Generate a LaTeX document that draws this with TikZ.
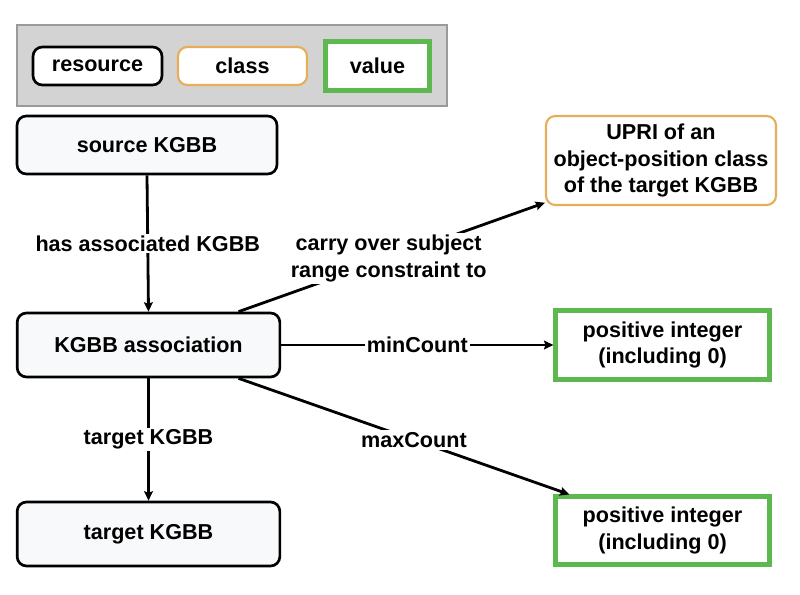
\documentclass[tikz,border=0pt]{standalone}
\usepackage{fontspec}
\setmainfont{Liberation Sans}
\usetikzlibrary{arrows.meta,calc}
\definecolor{orangeb}{HTML}{E8AD58}
\definecolor{greenb}{HTML}{5DB84F}
\definecolor{legfill}{HTML}{D3D3D3}
\definecolor{legdraw}{HTML}{9A9A9A}
\definecolor{boxfill}{HTML}{F8F9FA}
\begin{document}
\begin{tikzpicture}[x=0.75pt,y=-0.75pt,
  every node/.style={font=\fontsize{16.2}{20}\selectfont\bfseries, align=center, inner sep=0pt},
  resbox/.style={draw=black, line width=2pt, rounded corners=7pt, fill=boxfill},
  legres/.style={draw=black, line width=2pt, rounded corners=7pt, fill=white},
  clsbox/.style={draw=orangeb, line width=1.6pt, rounded corners=7pt, fill=white},
  valbox/.style={draw=greenb, line width=3.6pt, fill=white},
  conn/.style={draw=black, line width=2.1pt, -{Stealth[length=7pt,width=6.5pt,inset=1pt]}},
  lbl/.style={fill=white, inner sep=1.5pt}
]
\useasboundingbox (0,0) rectangle (800,595);
% legend
\node[draw=legdraw, line width=1pt, fill=legfill, minimum width=322.5pt, minimum height=60.75pt] (legend) at (232,65.5) {};
\node[legres, minimum width=96.75pt, minimum height=28.5pt] (lres) at (97.5,66) {resource};
\node[clsbox, minimum width=96.75pt, minimum height=28.5pt] (lcls) at (242.5,66) {class};
\node[valbox, minimum width=77.5pt, minimum height=36.5pt] (lval) at (377.5,66) {value};
% main nodes
\node[resbox, minimum width=195pt, minimum height=43.5pt] (src) at (147,145) {source KGBB};
\node[resbox, minimum width=197pt, minimum height=48pt] (assoc) at (148.5,345) {KGBB association};
\node[resbox, minimum width=197pt, minimum height=48pt] (tgt) at (148.5,534) {target KGBB};
\node[clsbox, minimum width=172.5pt, minimum height=66.75pt] (upri) at (661,160.5) {UPRI of an\\object-position class\\of the target KGBB};
\node[valbox, minimum width=160pt, minimum height=51.5pt] (v1) at (662.5,345) {positive integer\\(including 0)};
\node[valbox, minimum width=160pt, minimum height=50.5pt] (v2) at (662.5,530.5) {positive integer\\(including 0)};
% connectors
\draw[conn] (src.south) -- node[lbl]{has associated KGBB} (assoc.north);
\draw[conn] (assoc.south) -- node[lbl]{target KGBB} (tgt.north);
\draw[conn] (assoc.east) -- node[lbl]{minCount} (v1.west);
\draw[conn] ([xshift=-32pt]assoc.north east) -- node[lbl, pos=0.49]{carry over subject\\range constraint to} ([yshift=2.5pt]upri.south west);
\draw[conn] ([xshift=-32pt]assoc.south east) -- node[lbl, pos=0.53]{maxCount} ([xshift=12pt]v2.north west);
\end{tikzpicture}
\end{document}
